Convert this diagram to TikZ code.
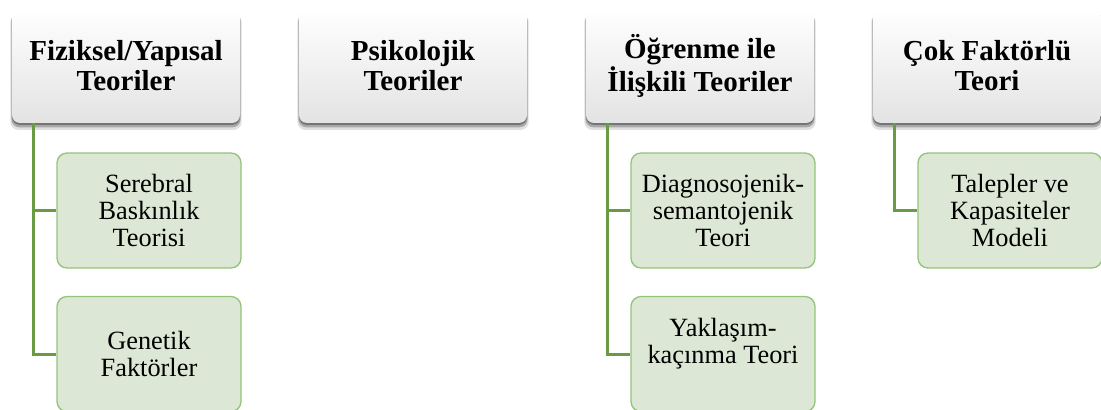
\documentclass[tikz,border=0pt]{standalone}
\usepackage{fontspec}
\setmainfont{Liberation Serif}
\usetikzlibrary{shadows}
\definecolor{leafgreen}{HTML}{DCE7D5}
\definecolor{leafedge}{HTML}{94C47A}
\definecolor{branchgreen}{HTML}{6B9A45}
\tikzset{
	theory/.style={rounded corners=6pt, top color=white, middle color=white, bottom color=black!11,
		minimum width=171pt, minimum height=85.5pt, inner sep=0pt, align=center,
		font=\fontsize{21.75}{22.5}\selectfont\bfseries,
		drop shadow={shadow xshift=0pt, shadow yshift=-1.5pt, opacity=0.3, fill=black},
		drop shadow={shadow xshift=0pt, shadow yshift=-3pt, opacity=0.25, fill=black, shadow scale=1.005},
		drop shadow={shadow xshift=0pt, shadow yshift=-4.5pt, opacity=0.12, fill=black, shadow scale=1.015}},
	leaf/.style={rounded corners=7.5pt, draw=leafedge, line width=1pt, fill=leafgreen,
		minimum width=138pt, minimum height=86.25pt, inner sep=0pt, align=center,
		font=\fontsize{19.75}{20.6}\selectfont},
	branch/.style={draw=branchgreen, line width=2.25pt}
}
\begin{document}
\begin{tikzpicture}[x=0.75pt,y=-0.75pt]
	\useasboundingbox (0,0) rectangle (1101,410);
	\node[theory] (fiz) at (126,66) {Fiziksel/Yapısal\\Teoriler};
	\node[theory] (psi) at (413,66) {Psikolojik\\Teoriler};
	\node[theory] (ogr) at (700,66) {Öğrenme ile\\İlişkili Teoriler};
	\node[theory] (cok) at (987,66) {Çok Faktörlü\\Teori};

	\node[leaf] (fiz1) at (149,210.5) {Serebral\\Baskınlık\\Teorisi};
	\node[leaf] (fiz2) at (149,354) {Genetik\\Faktörler};
	\node[leaf] (ogr1) at (723,210.5) {Diagnosojenik-\\semantojenik\\Teori};
	\node[leaf, text depth=20pt] (ogr2) at (723,354) {Yaklaşım-\\kaçınma Teori};
	\node[leaf] (cok1) at (1010,210.5) {Talepler ve\\Kapasiteler\\Modeli};

	\draw[branch] (fiz.south west) ++(22,0) |- (fiz2.west);
	\draw[branch] (fiz.south west) ++(22,0) |- (fiz1.west);
	\draw[branch] (ogr.south west) ++(22,0) |- (ogr2.west);
	\draw[branch] (ogr.south west) ++(22,0) |- (ogr1.west);
	\draw[branch] (cok.south west) ++(22,0) |- (cok1.west);
\end{tikzpicture}
\end{document}
